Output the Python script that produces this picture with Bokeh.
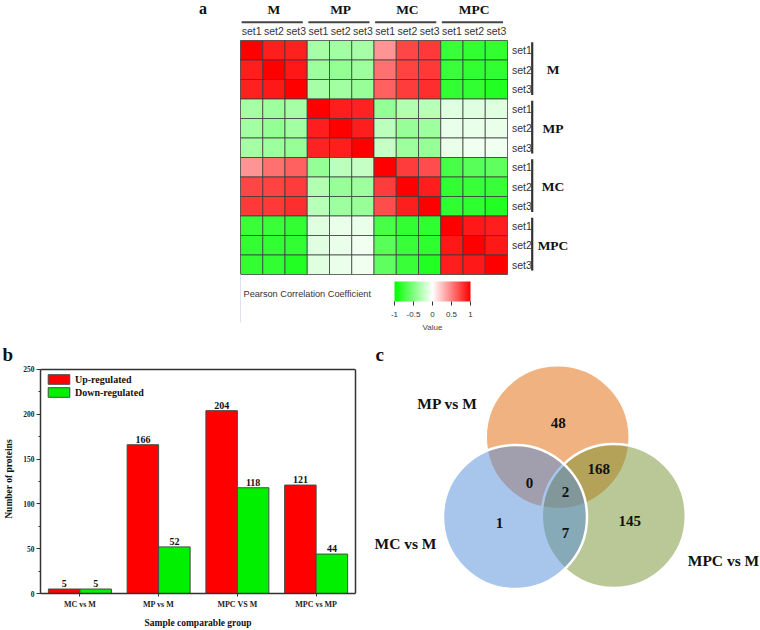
import numpy as np
from bokeh.plotting import figure
from bokeh.layouts import column, row
from bokeh.models import (ColumnDataSource, Range1d, FactorRange, LinearColorMapper, ColorBar,
                          FixedTicker, SingleIntervalTicker, Legend, LegendItem, Title,
                          Span, LinearAxis, CustomJSTickFormatter)
from bokeh.transform import dodge, transform
from bokeh.core.properties import value
from bokeh.embed import file_html
from bokeh.resources import INLINE

# ---------------- data ----------------
groups = ["M", "MP", "MC", "MPC"]
sets = ["set1", "set2", "set3"]
corr = [
    [1.00, 0.88, 0.87, -0.35, -0.36, -0.35, 0.42, 0.72, 0.78, -0.78, -0.80, -0.80],
    [0.88, 1.00, 0.90, -0.38, -0.42, -0.38, 0.56, 0.74, 0.78, -0.78, -0.80, -0.80],
    [0.87, 0.90, 1.00, -0.35, -0.36, -0.40, 0.62, 0.76, 0.82, -0.80, -0.80, -0.86],
    [-0.35, -0.38, -0.35, 1.00, 0.88, 0.86, -0.42, -0.30, -0.28, -0.12, -0.12, -0.12],
    [-0.36, -0.42, -0.36, 0.88, 1.00, 0.88, -0.26, -0.40, -0.38, -0.08, -0.08, -0.08],
    [-0.35, -0.38, -0.40, 0.86, 0.88, 1.00, -0.22, -0.38, -0.40, -0.08, -0.06, -0.06],
    [0.42, 0.56, 0.62, -0.42, -0.26, -0.22, 1.00, 0.76, 0.70, -0.72, -0.65, -0.62],
    [0.72, 0.74, 0.76, -0.30, -0.40, -0.38, 0.76, 1.00, 0.88, -0.80, -0.78, -0.78],
    [0.78, 0.78, 0.82, -0.28, -0.38, -0.40, 0.70, 0.88, 1.00, -0.82, -0.82, -0.86],
    [-0.78, -0.78, -0.80, -0.12, -0.08, -0.08, -0.72, -0.80, -0.82, 1.00, 0.90, 0.88],
    [-0.80, -0.80, -0.80, -0.12, -0.08, -0.06, -0.65, -0.78, -0.82, 0.90, 1.00, 0.90],
    [-0.80, -0.80, -0.86, -0.12, -0.08, -0.06, -0.62, -0.78, -0.86, 0.88, 0.90, 1.00],
]
cbar_ticks = [-1, -0.5, 0, 0.5, 1]

compare_groups = ["MC vs M", "MP vs M", "MPC VS M", "MPC vs MP"]
up_regulated = [5, 166, 204, 121]
down_regulated = [5, 52, 118, 44]
y_max = 250

venn_sets = ["MP vs M", "MC vs M", "MPC vs M"]
venn_regions = ["MP only", "MC only", "MPC only", "MP&MC", "MP&MPC", "MC&MPC", "all"]
venn_counts = [48, 1, 145, 0, 168, 7, 2]

# ---------------- layout constants ----------------
SERIF = "Liberation Serif"
SANS = "Liberation Sans"
W, H = 760, 630

def _mix(t):
    if t < 0:
        f = 1 + t
        return "#%02x%02x%02x" % (round(255 * f), 255, round(255 * f))
    f = 1 - t
    return "#%02x%02x%02x" % (255, round(255 * f), round(255 * f))

palette = [_mix(t) for t in np.linspace(-1, 1, 256)]
mapper = LinearColorMapper(palette=palette, low=-1, high=1)

# ================= panel a : heatmap =================
HA = 335
HX0, HCW, HY0, HCH = 240.0, 22.25, 40.0, 19.5
def u(px): return (px - HX0) / HCW
def v(py): return (py - HY0) / HCH

pa = figure(width=W, height=HA, x_range=Range1d(u(0), u(W)),
            y_range=Range1d(v(HA), v(0)), output_backend="svg",
            toolbar_location=None, min_border=0,
            x_axis_location=None, y_axis_location=None)
pa.grid.visible = False
pa.outline_line_color = None

n = len(groups) * len(sets)
xs, ys, vals = [], [], []
for i in range(n):
    for j in range(n):
        xs.append(j + 0.5)
        ys.append(i + 0.5)
        vals.append(corr[i][j])
src_a = ColumnDataSource(dict(x=xs, y=ys, val=vals))
pa.rect(x='x', y='y', width=1, height=1, source=src_a,
        fill_color=transform('val', mapper), line_color="#3a3a3a",
        line_width=1, line_alpha=0.75)

pa.text(x=[j + 0.5 for j in range(n)], y=[v(30)] * n,
        text=[sets[j % 3] for j in range(n)], text_align="center",
        text_baseline="middle", text_font=value(SANS), text_font_size="10.5px",
        text_color="#333333")
ng = len(groups)
pa.text(x=[3 * k + 1.5 for k in range(ng)], y=[v(8.5)] * ng, text=groups,
        text_align="center", text_baseline="middle", text_font=value(SERIF),
        text_font_style="bold", text_font_size="13.5px", text_color="#111111")
pa.segment(x0=[3 * k + 0.05 for k in range(ng)], x1=[3 * k + 2.8 for k in range(ng)],
           y0=[v(21.7)] * ng, y1=[v(21.7)] * ng, line_color="#444444", line_width=2)

pa.text(x=[u(511.5)] * n, y=[i + 0.5 for i in range(n)],
        text=[sets[i % 3] for i in range(n)], text_align="left",
        text_baseline="middle", text_font=value(SANS), text_font_size="10.5px",
        text_color="#333333")
pa.segment(x0=[u(531.7)] * ng, x1=[u(531.7)] * ng,
           y0=[3 * k + 0.09 for k in range(ng)], y1=[3 * k + 2.8 for k in range(ng)],
           line_color="#333333", line_width=2.2)
pa.text(x=[u(552.5)] * ng, y=[3 * k + 1.5 for k in range(ng)], text=groups,
        text_align="center", text_baseline="middle", text_font=value(SERIF),
        text_font_style="bold", text_font_size="13.5px", text_color="#111111")

pa.text(x=[u(202.5)], y=[v(7.5)], text=["a"], text_align="center",
        text_baseline="middle", text_font=value(SERIF), text_font_style="bold",
        text_font_size="16px", text_color="#111111")

pa.segment(x0=[u(240)], x1=[u(240)], y0=[v(274)], y1=[v(322)],
           line_color="#dde2ec", line_width=1)
pa.text(x=[u(243)], y=[v(293)], text=["Pearson Correlation Coefficient"],
        text_align="left", text_baseline="middle", text_font=value(SANS),
        text_font_size="9.2px", text_color="#333333")
pa.text(x=[u(432)], y=[v(327)], text=["Value"], text_align="center",
        text_baseline="middle", text_font=value(SANS), text_font_size="8px",
        text_color="#444444")

cb = ColorBar(color_mapper=mapper, orientation="horizontal",
              location=(394, HA - 319),
              width=76, height=20, padding=0, margin=0,
              ticker=FixedTicker(ticks=cbar_ticks),
              formatter=CustomJSTickFormatter(code="return tick.toString()"),
              major_label_text_font=SANS, major_label_text_font_size="8px",
              major_label_text_color="#333333", major_tick_out=4, major_tick_in=0,
              major_tick_line_color="#333333", minor_tick_line_color=None,
              label_standoff=6, bar_line_color=None, border_line_color=None,
              background_fill_alpha=0)
pa.add_layout(cb)

# ================= panel b : bar chart =================
HB = H - HA            # 295
WB = 370
TOPB, BOTB = 29, 34    # frame from y=364 to y=596 on the page
PX_PER_UNIT = 227.0 / y_max
y_top = y_max + (369 - (HA + TOPB)) / PX_PER_UNIT

pb = figure(width=WB, height=HB, x_range=FactorRange(factors=compare_groups, range_padding=0),
            y_range=Range1d(0, y_top), output_backend="svg", toolbar_location=None,
            min_border_left=40, min_border_right=15, min_border_top=TOPB,
            min_border_bottom=BOTB)
pb.grid.visible = False
pb.outline_line_color = None

src_b = ColumnDataSource(dict(cat=compare_groups, up=up_regulated, down=down_regulated,
                              up_t=[str(x) for x in up_regulated],
                              down_t=[str(x) for x in down_regulated]))
r_up = pb.vbar(x=dodge('cat', -0.2, range=pb.x_range), top='up', width=0.4, source=src_b,
               fill_color="#FF0000", line_color="#4a4a4a", line_width=1)
r_dn = pb.vbar(x=dodge('cat', 0.2, range=pb.x_range), top='down', width=0.4, source=src_b,
               fill_color="#00F000", line_color="#4a4a4a", line_width=1)
for col, off in (("up", -0.2), ("down", 0.2)):
    pb.text(x=dodge('cat', off, range=pb.x_range), y=col, text=col + "_t", source=src_b,
            text_align="center", text_baseline="bottom", y_offset=-2,
            text_font=value(SERIF), text_font_style="bold", text_font_size="10px",
            text_color="#111111")

pb.add_layout(Span(location=y_max, dimension="width", line_color="#333333", line_width=1.5))
rax = LinearAxis(ticker=FixedTicker(ticks=[]), bounds=(0, y_max), axis_line_color="#333333",
                 axis_line_width=1.5, major_tick_line_color=None, minor_tick_line_color=None,
                 major_label_text_font_size="1px")
pb.add_layout(rax, "right")

ax = pb.yaxis[0]
ax.ticker = SingleIntervalTicker(interval=50, num_minor_ticks=2)
ax.bounds = (0, y_max)
ax.axis_label = "Number of proteins"
ax.major_tick_out = 4
ax.major_tick_in = 0
ax.minor_tick_out = 2
ax.minor_tick_in = 0
ax.major_label_standoff = 2
ax.axis_label_standoff = 6

bx = pb.xaxis[0]
bx.axis_label = "Sample comparable group"
bx.major_tick_out = 3
bx.major_tick_in = 0
bx.major_label_standoff = 3
bx.axis_label_standoff = 6

for a in (ax, bx):
    a.axis_line_color = "#333333"
    a.axis_line_width = 1.5
    a.major_tick_line_color = "#333333"
    a.minor_tick_line_color = "#333333"
    a.major_label_text_font = SERIF
    a.major_label_text_font_style = "bold"
    a.major_label_text_color = "#222222"
    a.axis_label_text_font = SERIF
    a.axis_label_text_font_style = "bold"
    a.axis_label_text_font_size = "9.5px"
    a.axis_label_text_color = "#111111"
ax.major_label_text_font_size = "7.5px"
bx.major_label_text_font_size = "8px"

legend = Legend(items=[LegendItem(label="Up-regulated", renderers=[r_up]),
                       LegendItem(label="Down-regulated", renderers=[r_dn])],
                location=(5, 596 - 401), glyph_width=27, glyph_height=12, label_height=12,
                label_standoff=3, spacing=1, padding=0, margin=0,
                border_line_alpha=0, background_fill_alpha=0,
                label_text_font=SERIF, label_text_font_style="bold",
                label_text_font_size="10px", label_text_color="#111111")
pb.add_layout(legend)

pb.title = Title(text="b", align="left", offset=-38, standoff=0,
                 text_font=SERIF, text_font_style="bold", text_font_size="19px",
                 text_color="#111111")

# ================= panel c : Venn =================
WC = W - WB
pc = figure(width=WC, height=HB, x_range=Range1d(W - WC, W),
            y_range=Range1d(H - BOTB, HA + TOPB), output_backend="svg",
            toolbar_location=None, min_border_left=0, min_border_right=0,
            min_border_top=TOPB, min_border_bottom=BOTB,
            x_axis_location=None, y_axis_location=None)
pc.grid.visible = False
pc.outline_line_color = None

DY = 3
venn_centers = {"MP vs M": (557.2, 434.7), "MC vs M": (514.5, 515.5), "MPC vs M": (613.3, 514.5)}
venn_colors = {"MP vs M": "#E16501", "MC vs M": "#518BD9", "MPC vs M": "#75912F"}
for name in ("MP vs M", "MPC vs M", "MC vs M"):
    cx, cy = venn_centers[name]
    pc.circle(x=[cx], y=[cy + DY], radius=72, fill_color=venn_colors[name], fill_alpha=0.5,
              line_color="white", line_width=2.5)

region_pos = {"MP only": (557.7, 420.7), "MC only": (499, 521.7), "MPC only": (629.3, 520),
              "MP&MC": (529, 480.7), "MP&MPC": (598.3, 466.7), "MC&MPC": (565, 531.7),
              "all": (565, 490)}
pc.text(x=[region_pos[r][0] for r in venn_regions],
        y=[region_pos[r][1] + DY for r in venn_regions],
        text=[str(c) for c in venn_counts], text_align="center", text_baseline="middle",
        text_font=value(SERIF), text_font_style="bold", text_font_size="15px",
        text_color="#111111")
label_pos = {"MP vs M": (447, 401), "MC vs M": (405, 542.3), "MPC vs M": (723, 560)}
pc.text(x=[label_pos[s][0] for s in venn_sets], y=[label_pos[s][1] + DY for s in venn_sets],
        text=venn_sets, text_align="center", text_baseline="middle",
        text_font=value(SERIF), text_font_style="bold", text_font_size="15.5px",
        text_color="#111111")
pc.title = Title(text="c", align="left", offset=5, standoff=0,
                 text_font=SERIF, text_font_style="bold", text_font_size="19px",
                 text_color="#111111")

layout = column(pa, row(pb, pc))
open("out.html", "w").write(file_html(layout, INLINE))
